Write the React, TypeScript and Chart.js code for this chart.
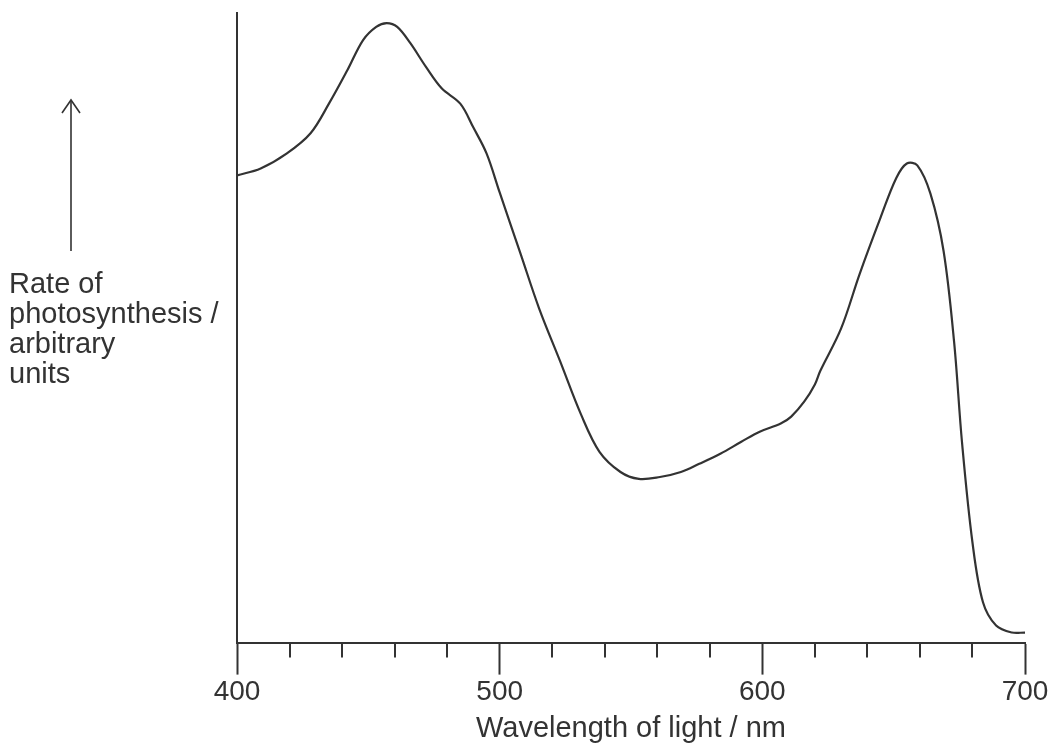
import React, { useEffect, useRef } from "react";
import { Chart, registerables } from "chart.js";

Chart.register(...registerables);

// Wavelength of light (nm)
const wavelengths = [
  400, 409, 419, 428, 435, 442, 448, 453, 457, 461, 466, 472, 478, 485, 490, 495,
  500, 508, 515, 523, 531, 538, 546, 553, 561, 569, 576, 584, 592, 599, 607, 611,
  616, 620, 622, 630, 637, 645, 651, 655, 659, 664, 669, 673, 676, 680, 684, 689,
  695, 700,
];
// Rate of photosynthesis (arbitrary units)
const rates = [
  74.2, 75.3, 77.7, 80.9, 85.6, 90.9, 95.7, 97.8, 98.4, 97.8, 95.2, 91.4, 88.0, 85.6, 81.8, 77.7,
  71.5, 61.7, 53.1, 44.7, 36.2, 30.3, 27.1, 26.0, 26.3, 27.1, 28.4, 30.0, 31.9, 33.5, 34.8, 35.9,
  38.3, 41.0, 43.1, 49.9, 58.5, 67.5, 73.8, 76.1, 75.8, 71.3, 62.2, 47.8, 31.9, 15.9, 6.4, 2.7,
  1.6, 1.6,
];
const xMajorTicks = [400, 500, 600, 700];
const xMinorTicks = [420, 440, 460, 480, 520, 540, 560, 580, 620, 640, 660, 680];
const xTitle = "Wavelength of light / nm";
const yLabelLines = ["Rate of", "photosynthesis /", "arbitrary", "units"];

const FONT = "'Liberation Sans', Arial, Helvetica, sans-serif";
const INK = "#333333";

const decorPlugin = {
  id: "decor",
  afterDraw(chart: any) {
    const ctx = chart.ctx;
    const xs = chart.scales.x;
    const area = chart.chartArea;
    ctx.save();
    // minor ticks
    ctx.strokeStyle = INK;
    ctx.lineWidth = 2;
    for (const v of xMinorTicks) {
      const px = Math.round(xs.getPixelForValue(v));
      ctx.beginPath();
      ctx.moveTo(px, area.bottom);
      ctx.lineTo(px, area.bottom + 15);
      ctx.stroke();
    }
    // y-axis arrow
    ctx.lineWidth = 1.6;
    ctx.beginPath();
    ctx.moveTo(71, 251);
    ctx.lineTo(71, 100);
    ctx.stroke();
    ctx.beginPath();
    ctx.moveTo(62, 113);
    ctx.lineTo(71, 100);
    ctx.lineTo(80, 113);
    ctx.stroke();
    // y-axis label
    ctx.fillStyle = INK;
    ctx.font = `29px ${FONT}`;
    ctx.textAlign = "left";
    ctx.textBaseline = "alphabetic";
    yLabelLines.forEach((line, i) => {
      ctx.fillText(line, 9, 293 + i * 30);
    });
    ctx.restore();
  },
};

export default function App() {
  const ref = useRef<HTMLCanvasElement | null>(null);

  useEffect(() => {
    if (!ref.current) return;
    const chart = new Chart(ref.current, {
      type: "line",
      data: {
        datasets: [
          {
            data: wavelengths.map((x, i) => ({ x, y: rates[i] })),
            borderColor: INK,
            borderWidth: 2.2,
            pointRadius: 0,
            fill: false,
            tension: 0.35,
          },
        ],
      },
      options: {
        responsive: false,
        animation: false,
        events: [],
        layout: { padding: { left: 237, right: 30, top: 13, bottom: 0 } },
        plugins: {
          legend: { display: false },
          tooltip: { enabled: false },
        },
        scales: {
          x: {
            type: "linear",
            min: 400,
            max: 700,
            position: "bottom",
            afterBuildTicks: (scale: any) => {
              scale.ticks = xMajorTicks.map((v) => ({ value: v }));
            },
            ticks: {
              autoSkip: false,
              maxRotation: 0,
              padding: 1,
              color: INK,
              font: { family: FONT, size: 28 },
              callback: (v: any) => String(v),
            },
            grid: {
              drawOnChartArea: false,
              drawTicks: true,
              tickLength: 32,
              tickWidth: 2,
              tickColor: INK,
            },
            border: { display: true, color: INK, width: 2 },
            title: {
              display: true,
              text: xTitle,
              color: INK,
              font: { family: FONT, size: 29 },
              padding: { top: 1, bottom: 0 },
            },
          },
          y: {
            type: "linear",
            min: 0,
            max: 100,
            display: true,
            ticks: { display: false },
            grid: { display: false, drawTicks: false },
            border: { display: true, color: INK, width: 2 },
          },
        },
      },
      plugins: [decorPlugin],
    });
    return () => chart.destroy();
  }, []);

  return (
    <div style={{ position: "fixed", left: 0, top: 0, width: 1055, height: 746, background: "#ffffff" }}>
      <canvas ref={ref} width={1055} height={746} style={{ display: "block", width: 1055, height: 746 }} />
    </div>
  );
}
